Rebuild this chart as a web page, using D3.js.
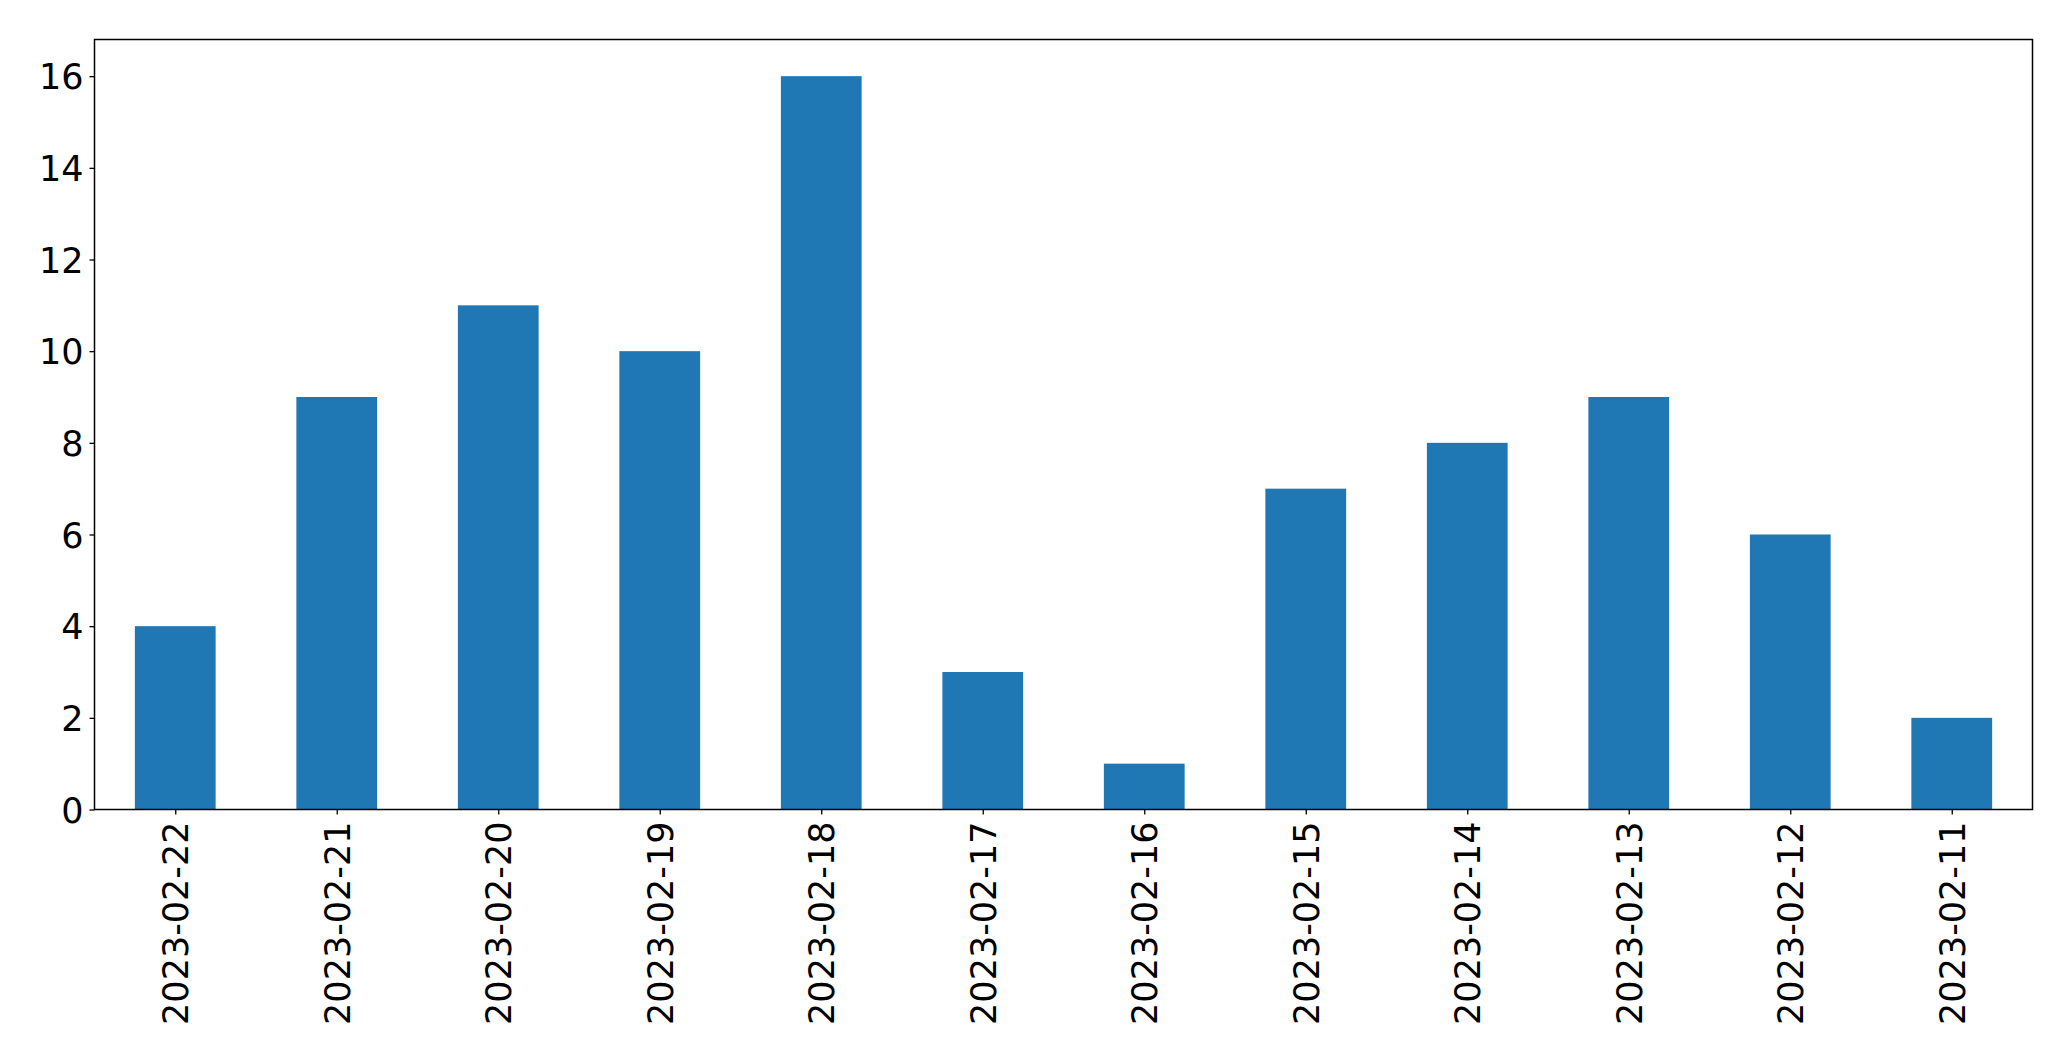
<!DOCTYPE html>
<html>
<head>
<meta charset="utf-8">
<script src="https://cdn.jsdelivr.net/npm/d3@7/dist/d3.min.js"></script>
<style>
html,body{margin:0;padding:0;background:#fff;}
svg{display:block;}
</style>
</head>
<body>
<svg id="chart" width="2071" height="1061"></svg>
<script>
const categories = ["2023-02-22","2023-02-21","2023-02-20","2023-02-19","2023-02-18","2023-02-17","2023-02-16","2023-02-15","2023-02-14","2023-02-13","2023-02-12","2023-02-11"];
const values = [4, 9, 11, 10, 16, 3, 1, 7, 8, 9, 6, 2];
const yTicks = [0, 2, 4, 6, 8, 10, 12, 14, 16];

(function () {
  const svg = d3.select("#chart");
  const mLeft = 94.5, mRight = 2032.5, mTop = 39.5, mBottom = 809.5;
  const fontSize = 35;
  const font = "'DejaVu Sans', sans-serif";

  const yMax = 16 * 1.05;
  const y = d3.scaleLinear().domain([0, yMax]).range([mBottom, mTop]);
  const x = d3.scaleLinear().domain([-0.5, categories.length - 0.5]).range([mLeft, mRight]);
  const barW = 0.5;

  svg.append("g").selectAll("rect").data(values).join("rect")
    .attr("x", (d, i) => x(i - barW / 2))
    .attr("width", (d, i) => x(i + barW / 2) - x(i - barW / 2))
    .attr("y", d => y(d))
    .attr("height", d => y(0) - y(d))
    .attr("fill", "#1f77b4");

  const yAxis = d3.axisLeft(y).tickValues(yTicks).tickSize(5).tickPadding(6).tickFormat(d3.format("d"));
  const gy = svg.append("g").attr("transform", `translate(${mLeft},0)`).call(yAxis);
  gy.select(".domain").remove();
  gy.selectAll("line").attr("stroke", "#000").attr("stroke-width", 1.3);
  gy.selectAll("text").attr("font-family", font).attr("font-size", fontSize).attr("fill", "#000").attr("dy", "0.36em");

  const xAxis = d3.axisBottom(x).tickValues(d3.range(categories.length)).tickSize(5).tickFormat(i => categories[i]);
  const gx = svg.append("g").attr("transform", `translate(0,${mBottom})`).call(xAxis);
  gx.select(".domain").remove();
  gx.selectAll("line").attr("stroke", "#000").attr("stroke-width", 1.3);
  gx.selectAll("text")
    .attr("font-family", font).attr("font-size", fontSize).attr("fill", "#000")
    .attr("transform", "rotate(-90)")
    .attr("x", -12).attr("y", 0).attr("dy", "0.36em")
    .attr("text-anchor", "end");

  svg.append("rect").attr("x", mLeft).attr("y", mTop).attr("width", mRight - mLeft).attr("height", mBottom - mTop)
    .attr("fill", "none").attr("stroke", "#000").attr("stroke-width", 1.5);
})();
</script>
</body>
</html>
